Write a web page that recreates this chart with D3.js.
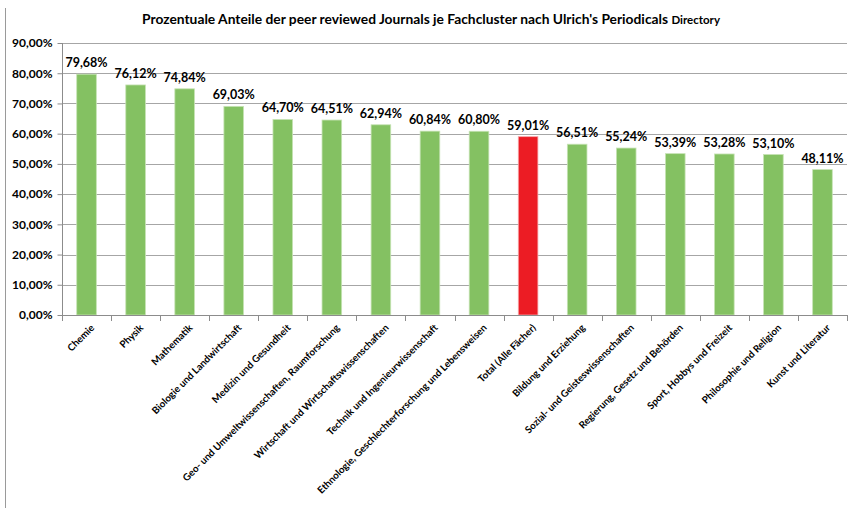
<!DOCTYPE html>
<html>
<head>
<meta charset="utf-8">
<script src="https://cdn.jsdelivr.net/npm/d3@7"></script>
<style>
  html, body { margin: 0; padding: 0; background: #fff; }
  svg { display: block; font-family: Lato, "Open Sans", sans-serif; }
</style>
</head>
<body>
<svg id="chart" width="850" height="511"></svg>
<script>
// Fachcluster und Anteile der peer reviewed Journals (%)
const categories = [
  "Chemie", "Physik", "Mathematik", "Biologie und Landwirtschaft",
  "Medizin und Gesundheit", "Geo- und Umweltwissenschaften, Raumforschung",
  "Wirtschaft und Wirtschaftswissenschaften", "Technik und Ingenieurwissenschaft",
  "Ethnologie, Geschlechterforschung und Lebensweisen", "Total (Alle Fächer)",
  "Bildung und Erziehung", "Sozial- und Geisteswissenschaften",
  "Regierung, Gesetz und Behörden", "Sport, Hobbys und Freizeit",
  "Philosophie und Religion", "Kunst und Literatur"
];
const values = [79.68, 76.12, 74.84, 69.03, 64.70, 64.51, 62.94, 60.84, 60.80,
                59.01, 56.51, 55.24, 53.39, 53.28, 53.10, 48.11];
const highlighted = ["Total (Alle Fächer)"];
const yTicks = [0, 10, 20, 30, 40, 50, 60, 70, 80, 90];

const fmt = v => d3.format(".2f")(v).replace(".", ",") + "%";

const svg = d3.select("#chart");
const margin = { left: 62, right: 3, top: 43, bottom: 196 };
const W = 850, H = 511;

const x = d3.scaleBand().domain(categories)
  .range([margin.left, W - margin.right]).paddingInner(0.6).paddingOuter(0.3);
const y = d3.scaleLinear().domain([0, 90]).range([H - margin.bottom, margin.top]);

// outer frame line on the left
svg.append("line").attr("x1", 5.5).attr("x2", 5.5).attr("y1", 8).attr("y2", 508)
  .attr("stroke", "#9a9a9a").attr("stroke-width", 1);

// title
const title = svg.append("text").attr("x", 431).attr("y", 24)
  .attr("text-anchor", "middle").attr("font-weight", 700).attr("font-size", 13.8)
  .attr("fill", "#000");
title.append("tspan").text("Prozentuale  Anteile der peer reviewed Journals  je Fachcluster  nach Ulrich's  Periodicals ");
title.append("tspan").attr("font-size", 11.5).text("Directory");

// gridlines
svg.append("g").selectAll("line").data(yTicks.filter(d => d > 0)).join("line")
  .attr("x1", margin.left).attr("x2", W - margin.right)
  .attr("y1", d => Math.round(y(d)) + 0.5).attr("y2", d => Math.round(y(d)) + 0.5)
  .attr("stroke", "#a6a6a6").attr("stroke-width", 1);

// y axis
const yAxis = svg.append("g").attr("transform", `translate(${margin.left + 0.5},0)`)
  .call(d3.axisLeft(y).tickValues(yTicks).tickFormat(d => fmt(d)).tickSize(5).tickPadding(5));
yAxis.selectAll("path, line").attr("stroke", "#8c8c8c");
yAxis.selectAll("text").attr("font-size", 12).attr("font-weight", 700)
  .attr("fill", "#000").attr("font-family", "Lato, sans-serif");
yAxis.select(".domain").attr("d", `M0,${y(90)}V${y(0)}`);

// bars
svg.append("g").selectAll("rect").data(categories).join("rect")
  .attr("x", d => x(d)).attr("width", x.bandwidth())
  .attr("y", (d, i) => y(values[i])).attr("height", (d, i) => y(0) - y(values[i]))
  .attr("fill", d => highlighted.includes(d) ? "#ec1c24" : "#84c162")
  .attr("stroke", d => highlighted.includes(d) ? "#f7a9ac" : "#c6e3b4").attr("stroke-width", 0.8);

// value labels
svg.append("g").selectAll("text").data(categories).join("text")
  .attr("x", d => x(d) + x.bandwidth() / 2).attr("y", (d, i) => y(values[i]) - 7)
  .attr("text-anchor", "middle").attr("font-size", 12.5).attr("font-weight", 700)
  .attr("fill", "#000").text((d, i) => fmt(values[i]));

// x axis line with ticks between categories
const bounds = d3.range(categories.length + 1)
  .map(i => margin.left + i * (W - margin.right - margin.left) / categories.length);
const xg = svg.append("g");
xg.append("line").attr("x1", margin.left).attr("x2", W - margin.right)
  .attr("y1", Math.round(y(0)) + 0.5).attr("y2", Math.round(y(0)) + 0.5)
  .attr("stroke", "#8c8c8c");
xg.selectAll("line.tick").data(bounds).join("line").attr("class", "tick")
  .attr("x1", d => Math.round(d) + 0.5).attr("x2", d => Math.round(d) + 0.5)
  .attr("y1", Math.round(y(0))).attr("y2", Math.round(y(0)) + 6)
  .attr("stroke", "#8c8c8c");

// rotated category labels
xg.selectAll("text").data(categories).join("text")
  .attr("transform", d => `translate(${x(d) + x.bandwidth() / 2 + 6},${y(0) + 11}) rotate(-45)`)
  .attr("text-anchor", "end").attr("dy", "0.35em")
  .attr("font-size", 9.8).attr("font-weight", 700).attr("fill", "#000")
  .text(d => d);
</script>
</body>
</html>
